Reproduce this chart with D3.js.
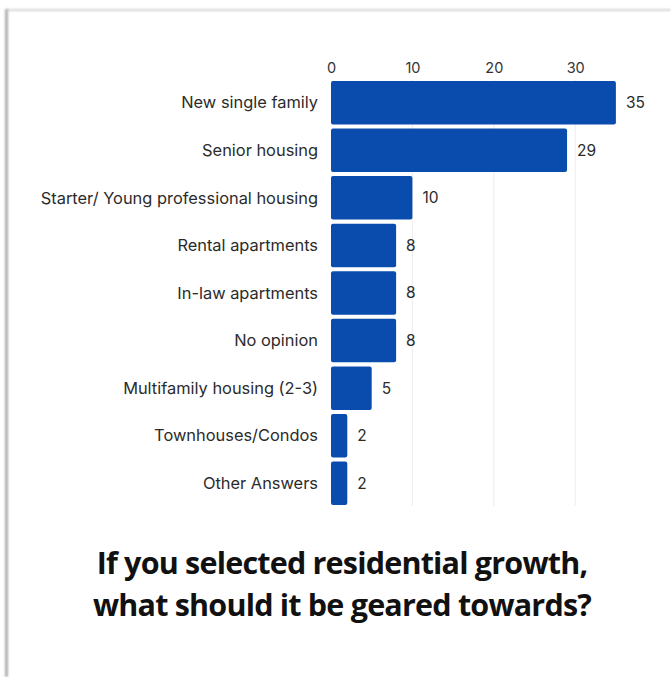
<!DOCTYPE html>
<html>
<head>
<meta charset="utf-8">
<script src="https://cdn.jsdelivr.net/npm/d3@7/dist/d3.min.js"></script>
<style>
  html, body { margin: 0; padding: 0; background: #fff; }
  svg { display: block; }
</style>
</head>
<body>
<svg id="chart" width="671" height="677"></svg>
<script>
// Survey answers and response counts
const categories = [
  "New single family",
  "Senior housing",
  "Starter/ Young professional housing",
  "Rental apartments",
  "In-law apartments",
  "No opinion",
  "Multifamily housing (2-3)",
  "Townhouses/Condos",
  "Other Answers"
];
const counts = [35, 29, 10, 8, 8, 8, 5, 2, 2];
const tickValues = [0, 10, 20, 30];
const titleLines = [
  "If you selected residential growth,",
  "what should it be geared towards?"
];

const svg = d3.select("#chart");

// Card frame: soft grey edges along the top and left
const defs = svg.append("defs");
const blur = defs.append("filter").attr("id", "soft")
  .attr("filterUnits", "userSpaceOnUse")
  .attr("x", 0).attr("y", 0).attr("width", 671).attr("height", 677);
blur.append("feGaussianBlur").attr("stdDeviation", 1);

svg.append("rect").attr("x", 7).attr("y", 9).attr("width", 664).attr("height", 2)
  .attr("fill", "#d6d6d6").attr("filter", "url(#soft)");
svg.append("rect").attr("x", 5).attr("y", 9).attr("width", 3).attr("height", 668)
  .attr("fill", "#b0b0b0").attr("filter", "url(#soft)");

const x = d3.scaleLinear().domain([0, 35]).range([331, 331 + 35 * 8.14]);
const y = d3.scaleBand().domain(categories).range([80, 506]).paddingInner(0.085).paddingOuter(0.02);

const font = "Inter, 'Noto Sans', sans-serif";

// Vertical gridlines
svg.append("g").selectAll("line")
  .data(tickValues.filter(d => d > 0))
  .join("line")
  .attr("x1", d => x(d)).attr("x2", d => x(d))
  .attr("y1", 80).attr("y2", 506)
  .attr("stroke", "#ececec").attr("stroke-width", 1);

// Top axis labels
const axis = d3.axisTop(x).tickValues(tickValues).tickSize(0).tickPadding(0);
const gAxis = svg.append("g").attr("transform", "translate(0,73)").call(axis);
gAxis.select(".domain").remove();
gAxis.selectAll("text")
  .attr("font-family", font).attr("font-size", 14.5).attr("fill", "#333");

// Bars
svg.append("g").selectAll("rect")
  .data(categories)
  .join("rect")
  .attr("x", x(0))
  .attr("y", d => y(d))
  .attr("width", (d, i) => x(counts[i]) - x(0))
  .attr("height", y.bandwidth())
  .attr("rx", 2)
  .attr("fill", "#0a4cae");

// Category labels
svg.append("g").selectAll("text")
  .data(categories)
  .join("text")
  .attr("x", 318)
  .attr("y", d => y(d) + y.bandwidth() / 2)
  .attr("dy", "0.35em")
  .attr("text-anchor", "end")
  .attr("font-family", font).attr("font-size", 16.4).attr("fill", "#2b2b2b")
  .text(d => d);

// Value labels
svg.append("g").selectAll("text")
  .data(categories)
  .join("text")
  .attr("x", (d, i) => x(counts[i]) + 10)
  .attr("y", d => y(d) + y.bandwidth() / 2)
  .attr("dy", "0.35em")
  .attr("font-family", font).attr("font-size", 15.5).attr("fill", "#2b2b2b")
  .text((d, i) => counts[i]);

// Title
svg.append("g").selectAll("text")
  .data(titleLines)
  .join("text")
  .attr("x", 342)
  .attr("y", (d, i) => 574 + i * 42)
  .attr("text-anchor", "middle")
  .attr("font-family", "'Open Sans', sans-serif")
  .attr("font-weight", 700)
  .attr("font-size", 30.5)
  .attr("letter-spacing", -0.8)
  .attr("fill", "#111")
  .text(d => d);
</script>
</body>
</html>
